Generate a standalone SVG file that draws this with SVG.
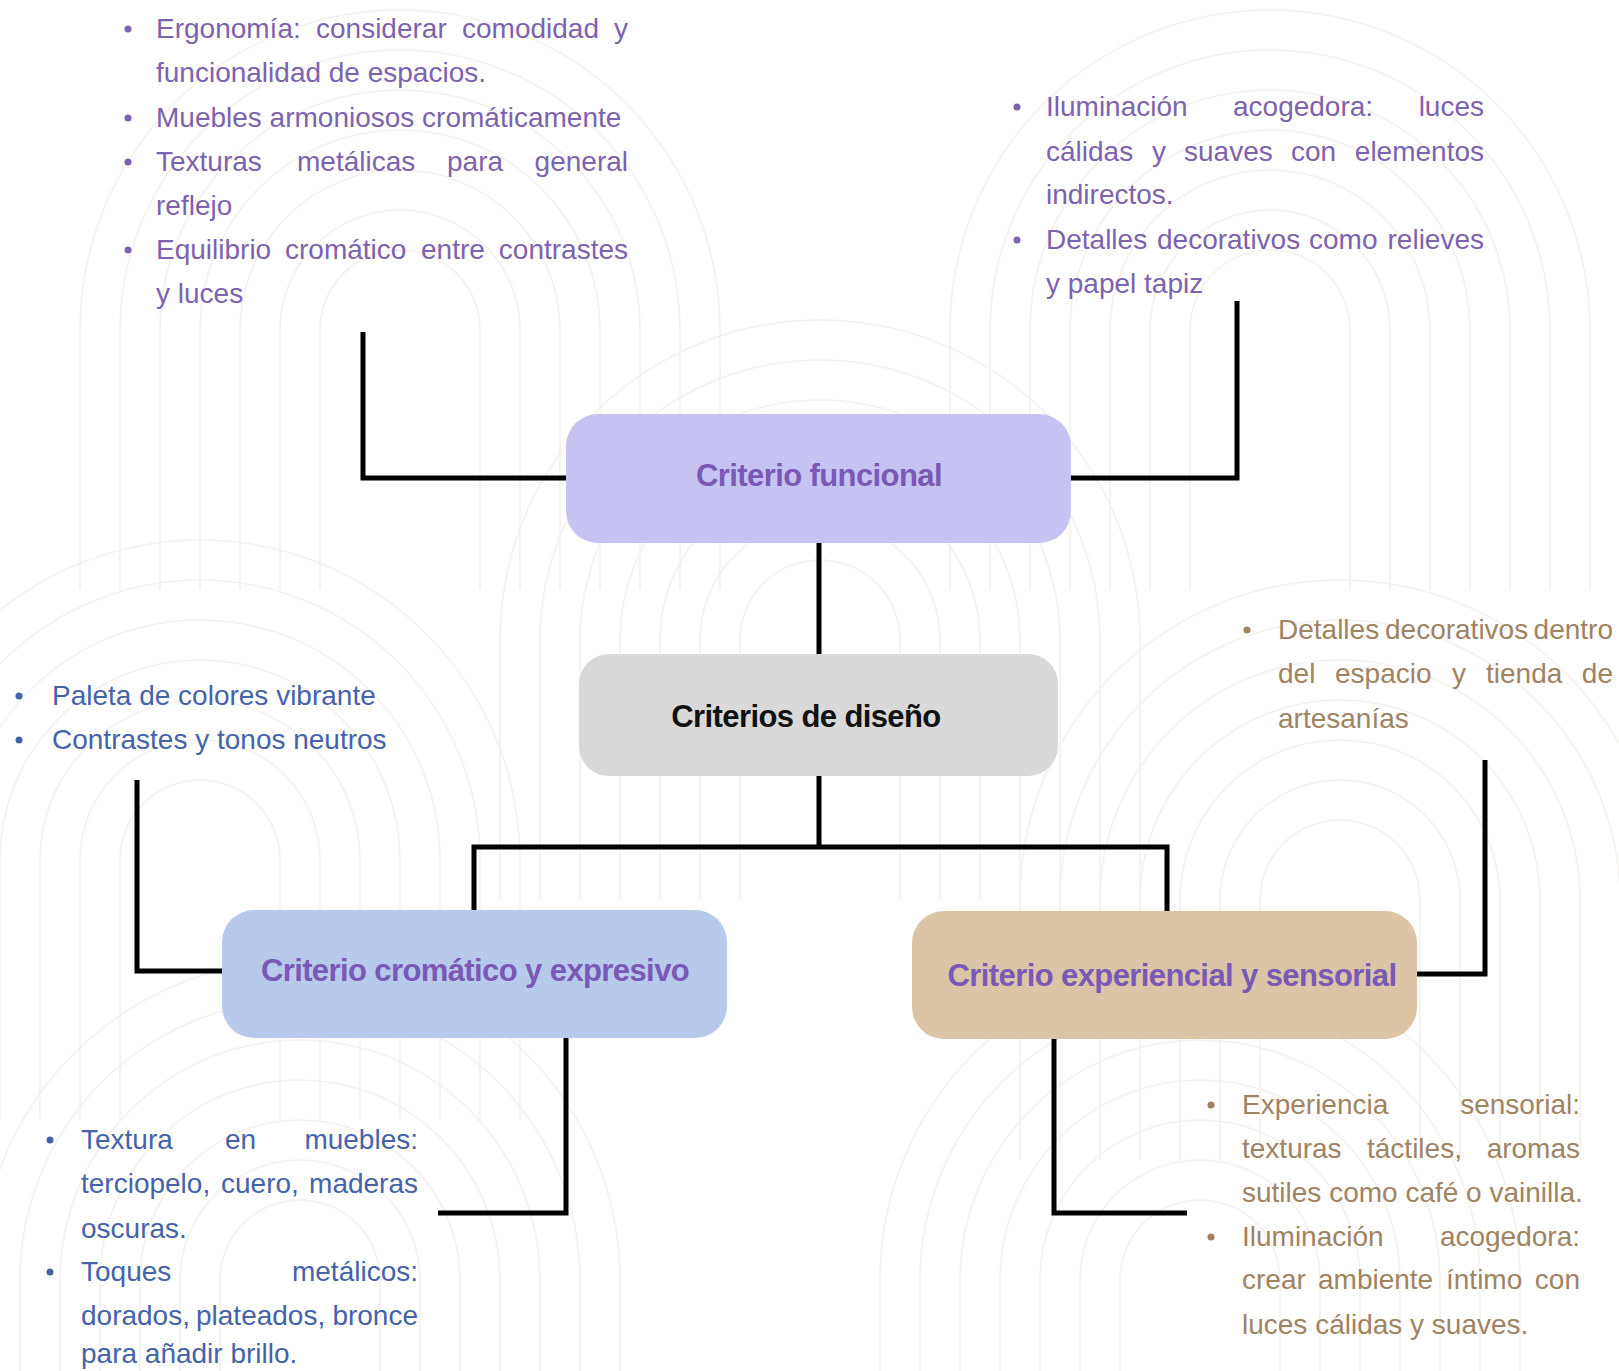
<svg xmlns="http://www.w3.org/2000/svg" xmlns:xlink="http://www.w3.org/1999/xlink" width="1619" height="1371" viewBox="0 0 1619 1371">
<style>
.t{font-family:"Liberation Sans",Arial,sans-serif;font-size:28px}
.pu{fill:#7D63AD}
.bl{fill:#4563A8}
.tn{fill:#A08363}
.lbl{font-family:"Liberation Sans",Arial,sans-serif;font-size:31px;font-weight:bold;text-anchor:middle;letter-spacing:-0.6px}
.e{text-anchor:end}
.con{fill:none;stroke:#000;stroke-width:5;stroke-linejoin:miter}
.arc{fill:none;stroke:#F4F1EE;stroke-width:1.6}
</style>
<defs>
<g id="arch" class="arc">
<path d="M-80 260V0A80 80 0 0 1 80 0V260"/>
<path d="M-120 260V0A120 120 0 0 1 120 0V260"/>
<path d="M-160 260V0A160 160 0 0 1 160 0V260"/>
<path d="M-200 260V0A200 200 0 0 1 200 0V260"/>
<path d="M-240 260V0A240 240 0 0 1 240 0V260"/>
<path d="M-280 260V0A280 280 0 0 1 280 0V260"/>
<path d="M-320 260V0A320 320 0 0 1 320 0V260"/>
</g>
</defs>
<rect width="1619" height="1371" fill="#FFFFFF"/>
<g id="background">
<use xlink:href="#arch" transform="translate(400,330)"/>
<use xlink:href="#arch" transform="translate(1270,330)"/>
<use xlink:href="#arch" transform="translate(820,640)"/>
<use xlink:href="#arch" transform="translate(200,860)"/>
<use xlink:href="#arch" transform="translate(1340,900)"/>
<use xlink:href="#arch" transform="translate(300,1280)"/>
<use xlink:href="#arch" transform="translate(1200,1280)"/>
</g>
<g id="connectors">
<path class="con" d="M566 478H363V332"/>
<path class="con" d="M1071 478H1237V301"/>
<path class="con" d="M819 543V654"/>
<path class="con" d="M819 776V847"/>
<path class="con" d="M474 910V847H1167V911"/>
<path class="con" d="M222 971H137V780"/>
<path class="con" d="M1417 974H1485V760"/>
<path class="con" d="M566 1038V1213H438"/>
<path class="con" d="M1054 1039V1213H1187"/>
</g>
<g id="node-funcional">
<rect x="566" y="414" width="505" height="129" rx="32" fill="#C6C3F3"/>
<text class="lbl" x="819" y="486" fill="#7A58B5">Criterio funcional</text>
</g>
<g id="node-diseno">
<rect x="579" y="654" width="479" height="122" rx="30" fill="#D9D9D9"/>
<text class="lbl" x="806" y="727" fill="#111111">Criterios de diseño</text>
</g>
<g id="node-cromatico">
<rect x="222" y="910" width="505" height="128" rx="32" fill="#B8CAEB"/>
<text class="lbl" x="475" y="981" fill="#7A58B5">Criterio cromático y expresivo</text>
</g>
<g id="node-experiencial">
<rect x="912" y="911" width="505" height="128" rx="32" fill="#DCC5A6"/>
<text class="lbl" x="1172" y="986" fill="#7A58B5">Criterio experiencial y sensorial</text>
</g>
<g id="text-funcional-left" class="pu">
<circle cx="128" cy="29" r="3.5"/><circle cx="128" cy="118" r="3.5"/><circle cx="128" cy="162" r="3.5"/><circle cx="128" cy="250" r="3.5"/>
<text class="t" y="38"><tspan x="156">Ergonomía:</tspan><tspan x="316">considerar</tspan><tspan x="462">comodidad</tspan></text><text class="t e" x="628" y="38">y</text>
<text class="t" x="156" y="82">funcionalidad de espacios.</text>
<text class="t" x="156" y="127">Muebles armoniosos cromáticamente</text>
<text class="t" y="171"><tspan x="156">Texturas</tspan><tspan x="297">metálicas</tspan><tspan x="447">para</tspan></text><text class="t e" x="628" y="171">general</text>
<text class="t" x="156" y="215">reflejo</text>
<text class="t" y="259"><tspan x="156">Equilibrio</tspan><tspan x="285">cromático</tspan><tspan x="421">entre</tspan></text><text class="t e" x="628" y="259">contrastes</text>
<text class="t" x="156" y="303">y luces</text>
</g>
<g id="text-funcional-right" class="pu">
<circle cx="1017" cy="107" r="3.5"/><circle cx="1017" cy="240" r="3.5"/>
<text class="t" y="116"><tspan x="1046">Iluminación</tspan><tspan x="1233">acogedora:</tspan></text><text class="t e" x="1484" y="116">luces</text>
<text class="t" y="161"><tspan x="1046">cálidas</tspan><tspan x="1152">y</tspan><tspan x="1184">suaves</tspan><tspan x="1291">con</tspan></text><text class="t e" x="1484" y="161">elementos</text>
<text class="t" x="1046" y="204">indirectos.</text>
<text class="t" y="249"><tspan x="1046">Detalles</tspan><tspan x="1157">decorativos</tspan><tspan x="1309">como</tspan></text><text class="t e" x="1484" y="249">relieves</text>
<text class="t" x="1046" y="293">y papel tapiz</text>
</g>
<g id="text-cromatico-top" class="bl">
<circle cx="19" cy="696" r="3.5"/><circle cx="19" cy="740" r="3.5"/>
<text class="t" x="52" y="705">Paleta de colores vibrante</text>
<text class="t" x="52" y="749">Contrastes y tonos neutros</text>
</g>
<g id="text-experiencial-top" class="tn">
<circle cx="1247" cy="630" r="3.5"/>
<text class="t" y="639"><tspan x="1278">Detalles</tspan><tspan x="1385">decorativos</tspan></text><text class="t e" x="1613" y="639">dentro</text>
<text class="t" y="683"><tspan x="1278">del</tspan><tspan x="1335">espacio</tspan><tspan x="1452">y</tspan><tspan x="1486">tienda</tspan></text><text class="t e" x="1613" y="683">de</text>
<text class="t" x="1278" y="728">artesanías</text>
</g>
<g id="text-cromatico-bottom" class="bl">
<circle cx="50" cy="1140" r="3.5"/><circle cx="50" cy="1272" r="3.5"/>
<text class="t" y="1149"><tspan x="81">Textura</tspan><tspan x="225">en</tspan></text><text class="t e" x="418" y="1149">muebles:</text>
<text class="t" y="1193"><tspan x="81">terciopelo,</tspan><tspan x="221">cuero,</tspan></text><text class="t e" x="418" y="1193">maderas</text>
<text class="t" x="81" y="1238">oscuras.</text>
<text class="t" x="81" y="1281">Toques</text><text class="t e" x="418" y="1281">metálicos:</text>
<text class="t" y="1325"><tspan x="81">dorados,</tspan><tspan x="196">plateados,</tspan></text><text class="t e" x="418" y="1325">bronce</text>
<text class="t" x="81" y="1363">para añadir brillo.</text>
</g>
<g id="text-experiencial-bottom" class="tn">
<circle cx="1211" cy="1105" r="3.5"/><circle cx="1211" cy="1237" r="3.5"/>
<text class="t" x="1242" y="1114">Experiencia</text><text class="t e" x="1580" y="1114">sensorial:</text>
<text class="t" y="1158"><tspan x="1242">texturas</tspan><tspan x="1367">táctiles,</tspan></text><text class="t e" x="1580" y="1158">aromas</text>
<text class="t" x="1242" y="1202">sutiles como café o vainilla.</text>
<text class="t" x="1242" y="1246">Iluminación</text><text class="t e" x="1580" y="1246">acogedora:</text>
<text class="t" y="1289"><tspan x="1242">crear</tspan><tspan x="1318">ambiente</tspan><tspan x="1446">íntimo</tspan></text><text class="t e" x="1580" y="1289">con</text>
<text class="t" x="1242" y="1334">luces cálidas y suaves.</text>
</g>
</svg>
